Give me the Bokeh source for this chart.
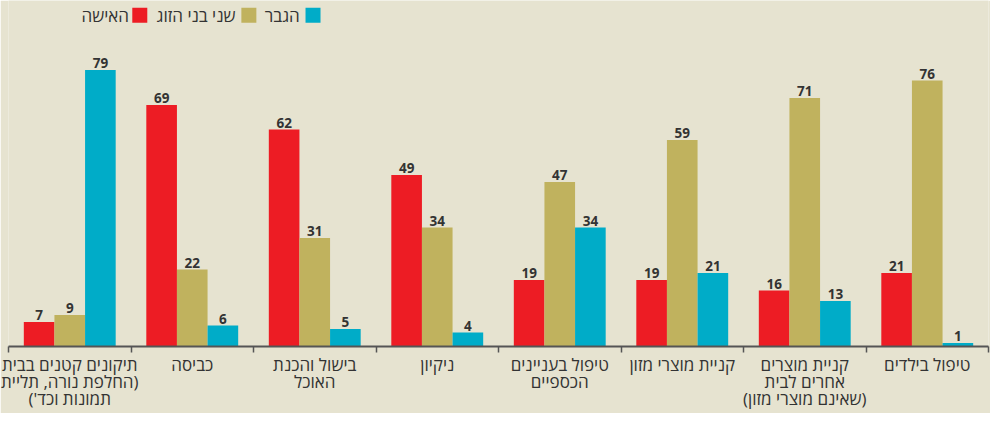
from bokeh.plotting import figure
from bokeh.models import ColumnDataSource, Range1d, LinearAxis, FixedTicker
from bokeh.transform import dodge
from bokeh.core.properties import value
from bokeh.embed import file_html
from bokeh.resources import INLINE

# ---------------- data ----------------
category_lines = [
    ["תיקונים קטנים בבית", "(החלפת נורה, תליית", "תמונות וכד')"],
    ["כביסה"],
    ["בישול והכנת", "האוכל"],
    ["ניקיון"],
    ["טיפול בעניינים", "הכספיים"],
    ["קניית מוצרי מזון"],
    ["קניית מוצרים", "אחרים לבית", "(שאינם מוצרי מזון)"],
    ["טיפול בילדים"],
]
categories = [" ".join(l) for l in category_lines]
series_names = ["האישה", "שני בני הזוג", "הגבר"]
wife = [7, 69, 62, 49, 19, 19, 16, 21]
both = [9, 22, 31, 34, 47, 59, 71, 76]
husband = [79, 6, 5, 4, 34, 21, 13, 1]

# ---------------- style ----------------
BG = "#E6E3D0"
COLORS = ["#ED1C24", "#C0B25E", "#00ACC8"]
TXT = "#333333"
FONT = "Open Sans"
RLM = "\u200f"

W, H = 990, 413
BL, BR, BB = 8, 2, 63
FRAME_H = 349
YMAX = 98.9
N = len(categories)
centers = [i + 0.5 for i in range(N)]
bounds = list(range(N + 1))

src = ColumnDataSource(dict(x=centers, cat=categories, wife=wife, both=both, husband=husband,
                            wife_t=[str(v) for v in wife],
                            both_t=[str(v) for v in both],
                            husband_t=[str(v) for v in husband]))

p = figure(x_range=Range1d(0, N), y_range=Range1d(0, YMAX),
           width=W, height=H, output_backend="svg", toolbar_location=None,
           x_axis_location=None, y_axis_location=None,
           min_border_left=BL, min_border_right=BR, min_border_top=0, min_border_bottom=BB,
           background_fill_color=BG, border_fill_color=BG, outline_line_color=None)
for g in p.grid:
    g.visible = False

offsets = [-0.25, 0.0, 0.25]
cols = ["wife", "both", "husband"]
for off, col, color in zip(offsets, cols, COLORS):
    p.vbar(x=dodge("x", off), top=col, width=0.25, bottom=0,
           source=src, fill_color=color, line_color=None)
    p.text(x=dodge("x", off), y=col, text=col + "_t", source=src,
           text_align="center", text_baseline="bottom", y_offset=-2,
           text_font=value(FONT), text_font_style="bold", text_font_size="13.5px",
           text_color=TXT)

# legend (right-to-left: square to the right of its label)
def ux(px_ref):
    return (px_ref - 10) / 124.1

leg_y = YMAX * (FRAME_H - 15) / FRAME_H
sq_x = [143, 253.5, 318.5]
tx_x = [132, 240, 305]
p.scatter(x=[ux(v) for v in sq_x], y=[leg_y] * 3, marker="square", size=15,
          fill_color=COLORS, line_color=None)
p.text(x=[ux(v) for v in tx_x], y=[leg_y] * 3, text=[RLM + s + RLM for s in series_names],
       text_align="right", text_baseline="middle", text_font=value(FONT),
       text_font_size="17px", text_color=TXT)

# one axis: labels at group centres, small ticks at group boundaries
overrides = {c: "\n".join(RLM + l + RLM for l in lines) for c, lines in zip(centers, category_lines)}
axis = LinearAxis(ticker=FixedTicker(ticks=centers, minor_ticks=bounds),
                  major_label_overrides=overrides,
                  axis_line_color="#555555", axis_line_width=2,
                  major_tick_line_color=None, major_tick_out=0, major_tick_in=0,
                  minor_tick_line_color="#555555", minor_tick_line_width=1.5,
                  minor_tick_out=6, minor_tick_in=0,
                  major_label_text_font=FONT, major_label_text_font_size="17px",
                  major_label_text_color=TXT, major_label_standoff=0,
                  major_label_text_line_height=0.76)
p.add_layout(axis, "below")

open("out.html", "w").write(file_html(p, INLINE))
